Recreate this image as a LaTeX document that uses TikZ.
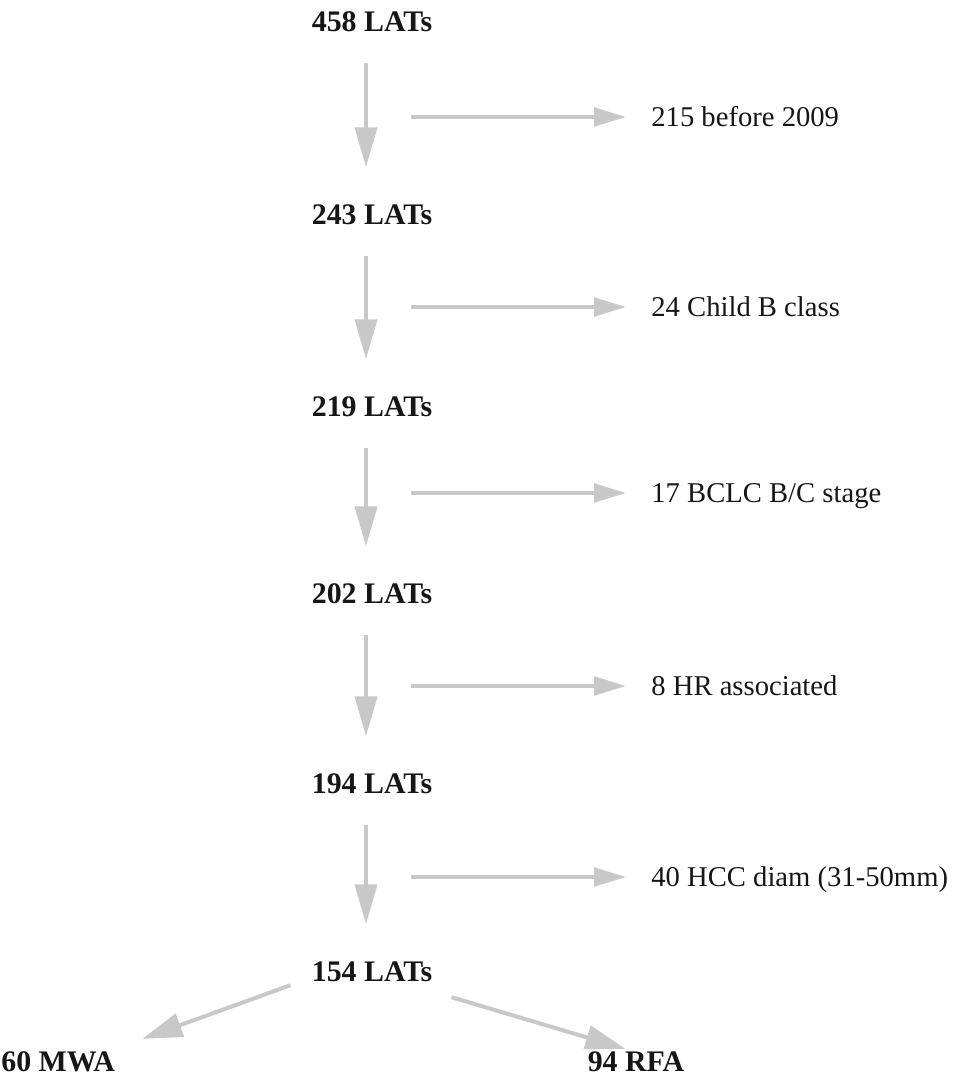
\documentclass[tikz,border=0pt]{standalone}
\usepackage{fontspec}
\setmainfont{Liberation Serif}
\usetikzlibrary{arrows.meta}

\definecolor{flowgray}{RGB}{200,200,200}
\definecolor{inktext}{RGB}{22,22,22}

\begin{document}
\begin{tikzpicture}[
  x=0.02cm, y=-0.02cm,
  font=\fontsize{16.3}{19}\selectfont, text=inktext,
  count/.style={font=\fontsize{17}{20}\selectfont\bfseries, inner sep=0pt,
                text height=11.2pt, text depth=0pt},
  excl/.style={anchor=west, inner sep=0pt, text height=10.8pt, text depth=0pt},
  down/.style={-{Triangle[length=0.8cm, width=0.44cm]}, line width=0.08cm,
               draw=flowgray, shorten <=0.62cm, shorten >=0.75cm},
  side/.style={-{Triangle[length=0.64cm, width=0.37cm]}, line width=0.08cm,
               draw=flowgray, shorten >=0.5cm},
  split/.style={-{Triangle[length=0.8cm, width=0.48cm]}, line width=0.08cm,
                draw=flowgray},
]
\useasboundingbox (0,0) rectangle (962,1077);

% main chain
\node[count] (n0) at (372,22)  {458 LATs};
\node[count] (n1) at (372,215) {243 LATs};
\node[count] (n2) at (372,407) {219 LATs};
\node[count] (n3) at (372,594) {202 LATs};
\node[count] (n4) at (372,784) {194 LATs};
\node[count] (n5) at (372,972) {154 LATs};

% excluded
\coordinate (c0) at (411,117);
\coordinate (c1) at (411,307);
\coordinate (c2) at (411,493);
\coordinate (c3) at (411,686);
\coordinate (c4) at (411,877);
\node[excl] (x0) at (651,117) {215 before 2009};
\node[excl] (x1) at (651,307) {24 Child B class};
\node[excl] (x2) at (651,493) {17 BCLC B/C stage};
\node[excl] (x3) at (651,686) {8 HR associated};
\node[excl] (x4) at (651,877) {40 HCC diam (31-50mm)};

% treatment
\node[count, anchor=west] (mwa) at (1,1062) {60 MWA};
\node[count] (rfa) at (636,1062) {94 RFA};

\draw[down] ([xshift=-0.12cm]n0.south) -- ([xshift=-0.12cm]n1.north);
\draw[down] ([xshift=-0.12cm]n1.south) -- ([xshift=-0.12cm]n2.north);
\draw[down] ([xshift=-0.12cm]n2.south) -- ([xshift=-0.12cm]n3.north);
\draw[down] ([xshift=-0.12cm]n3.south) -- ([xshift=-0.12cm]n4.north);
\draw[down] ([xshift=-0.12cm]n4.south) -- ([xshift=-0.12cm]n5.north);

\draw[side] (c0) -- (x0);
\draw[side] (c1) -- (x1);
\draw[side] (c2) -- (x2);
\draw[side] (c3) -- (x3);
\draw[side] (c4) -- (x4);

\draw[split] ([shift={(-21,3)}]n5.south west) -- ([shift={(27,-13)}]mwa.north east);
\draw[split] ([shift={(19,15)}]n5.south east) -- ([shift={(38,-3)}]rfa.north west);

\end{tikzpicture}
\end{document}
